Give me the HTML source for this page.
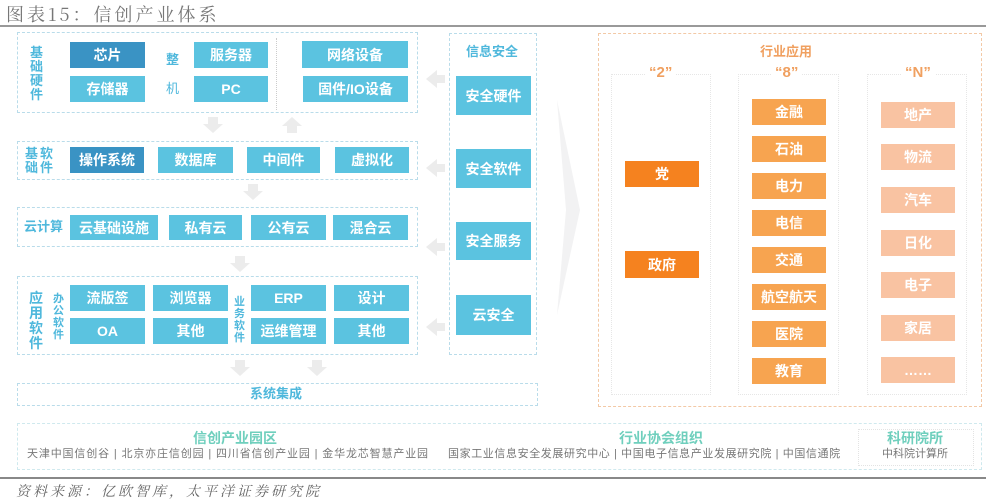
<!DOCTYPE html>
<html><head><meta charset="utf-8"><style>
body{margin:0;width:986px;height:500px;background:#fff;position:relative;overflow:hidden;font-family:"Liberation Sans","Noto Sans CJK SC",sans-serif}
.a{position:absolute;box-sizing:border-box}
.b{position:absolute;box-sizing:border-box;color:#fff;font-weight:bold;font-size:14px;display:flex;align-items:center;justify-content:center;background:#5bc3e0}
.d{background:#3a93c4}
.dash{position:absolute;box-sizing:border-box;border:1.5px dashed #b9dcea}
.lb{position:absolute;color:#4fb8dc;font-weight:bold;font-size:13px;line-height:14px}
.o1{background:#f5821f}.o2{background:#f7a450}.o3{background:#f9c3a2}
.t{position:absolute;color:#777;font-size:11px;white-space:nowrap}
</style></head><body>
<div class="a" style="left:6px;top:1px;font-family:'Noto Serif CJK SC',serif;font-size:18px;color:#777;letter-spacing:3px">图表15：信创产业体系</div>
<div class="a" style="left:0;top:25px;width:986px;height:2px;background:#999"></div>

<!-- hardware -->
<div class="dash" style="left:17px;top:32px;width:401px;height:81px"></div>
<div class="lb" style="left:30px;top:46px;width:14px">基础硬件</div>
<div class="b d" style="left:70px;top:42px;width:75px;height:26px">芯片</div>
<div class="b" style="left:70px;top:76px;width:75px;height:26px">存储器</div>
<div class="a" style="left:175px;top:38px;width:102px;height:72px;border-right:1px dotted #ccc"></div>
<div class="lb" style="left:166px;top:53px">整</div>
<div class="lb" style="left:166px;top:82px;font-weight:normal">机</div>
<div class="b" style="left:194px;top:42px;width:74px;height:26px">服务器</div>
<div class="b" style="left:194px;top:76px;width:74px;height:26px">PC</div>
<div class="b" style="left:302px;top:41px;width:106px;height:27px">网络设备</div>
<div class="b" style="left:303px;top:76px;width:105px;height:26px">固件/IO设备</div>
<svg class="a" style="left:0;top:0" width="986" height="500">
<g fill="#ececec">
<polygon points="208,117 218,117 218,124 223,124 213,133 203,124 208,124"/>
<polygon points="287,133 297,133 297,126 302,126 292,117 282,126 287,126"/>
<polygon points="248,184 258,184 258,191 263,191 253,200 243,191 248,191"/>
<polygon points="235,256 245,256 245,263 250,263 240,272 230,263 235,263"/>
<polygon points="235,360 245,360 245,367 250,367 240,376 230,367 235,367"/>
<polygon points="312,360 322,360 322,367 327,367 317,376 307,367 312,367"/>
<polygon points="445,75 437,75 437,70 426,79 437,88 437,83 445,83"/>
<polygon points="445,164 437,164 437,159 426,168 437,177 437,172 445,172"/>
<polygon points="445,243 437,243 437,238 426,247 437,256 437,251 445,251"/>
<polygon points="445,323 437,323 437,318 426,327 437,336 437,331 445,331"/>
<polygon points="557,100 580,210 557,315 566,210" fill="#f2f2f3"/>
</g></svg>

<!-- software -->
<div class="dash" style="left:17px;top:141px;width:401px;height:39px"></div>
<div class="lb" style="left:25px;top:147px;width:32px;letter-spacing:2px">基软础件</div>
<div class="b d" style="left:70px;top:147px;width:74px;height:26px">操作系统</div>
<div class="b" style="left:158px;top:147px;width:75px;height:26px">数据库</div>
<div class="b" style="left:247px;top:147px;width:73px;height:26px">中间件</div>
<div class="b" style="left:335px;top:147px;width:74px;height:26px">虚拟化</div>

<!-- cloud -->
<div class="dash" style="left:17px;top:207px;width:401px;height:40px"></div>
<div class="lb" style="left:24px;top:220px">云计算</div>
<div class="b" style="left:70px;top:215px;width:88px;height:25px">云基础设施</div>
<div class="b" style="left:169px;top:215px;width:73px;height:25px">私有云</div>
<div class="b" style="left:251px;top:215px;width:75px;height:25px">公有云</div>
<div class="b" style="left:333px;top:215px;width:75px;height:25px">混合云</div>

<!-- apps -->
<div class="dash" style="left:17px;top:276px;width:401px;height:79px"></div>
<div class="lb" style="left:29px;top:291px;width:14px;font-size:14px;line-height:15px">应用软件</div>
<div class="lb" style="left:53px;top:293px;width:12px;font-size:11px;line-height:12px">办公软件</div>
<div class="lb" style="left:234px;top:296px;width:12px;font-size:11px;line-height:12px">业务软件</div>
<div class="b" style="left:70px;top:285px;width:75px;height:26px">流版签</div>
<div class="b" style="left:153px;top:285px;width:75px;height:26px">浏览器</div>
<div class="b" style="left:251px;top:285px;width:75px;height:26px">ERP</div>
<div class="b" style="left:334px;top:285px;width:75px;height:26px">设计</div>
<div class="b" style="left:70px;top:318px;width:75px;height:26px">OA</div>
<div class="b" style="left:153px;top:318px;width:75px;height:26px">其他</div>
<div class="b" style="left:251px;top:318px;width:75px;height:26px">运维管理</div>
<div class="b" style="left:334px;top:318px;width:75px;height:26px">其他</div>

<div class="dash" style="left:17px;top:383px;width:521px;height:23px"></div>
<div class="lb" style="left:250px;top:387px">系统集成</div>

<!-- security -->
<div class="dash" style="left:449px;top:33px;width:88px;height:322px"></div>
<div class="lb" style="left:466px;top:45px">信息安全</div>
<div class="b" style="left:456px;top:76px;width:75px;height:39px">安全硬件</div>
<div class="b" style="left:456px;top:149px;width:75px;height:39px">安全软件</div>
<div class="b" style="left:456px;top:222px;width:75px;height:38px">安全服务</div>
<div class="b" style="left:456px;top:295px;width:75px;height:40px">云安全</div>

<!-- industry -->
<div class="a" style="left:598px;top:33px;width:384px;height:374px;border:1.5px dashed #f3c9a6"></div>
<div class="a" style="left:760px;top:41px;color:#f0a060;font-weight:bold;font-size:13px">行业应用</div>
<div class="a" style="left:611px;top:74px;width:100px;height:321px;border:1px dotted #e6e6e6"></div>
<div class="a" style="left:738px;top:74px;width:101px;height:321px;border:1px dotted #e6e6e6"></div>
<div class="a" style="left:867px;top:74px;width:100px;height:321px;border:1px dotted #e6e6e6"></div>
<div class="a" style="left:645px;top:64px;background:#fff;padding:0 4px;color:#f0a060;font-weight:bold;font-size:15px">“2”</div>
<div class="a" style="left:771px;top:64px;background:#fff;padding:0 4px;color:#f0a060;font-weight:bold;font-size:15px">“8”</div>
<div class="a" style="left:901px;top:64px;background:#fff;padding:0 4px;color:#f0a060;font-weight:bold;font-size:15px">“N”</div>
<div class="b o1" style="left:625px;top:161px;width:74px;height:26px">党</div>
<div class="b o1" style="left:625px;top:251px;width:74px;height:27px">政府</div>
<div class="b o2" style="left:752px;top:99px;width:74px;height:26px">金融</div>
<div class="b o2" style="left:752px;top:136px;width:74px;height:26px">石油</div>
<div class="b o2" style="left:752px;top:173px;width:74px;height:26px">电力</div>
<div class="b o2" style="left:752px;top:210px;width:74px;height:26px">电信</div>
<div class="b o2" style="left:752px;top:247px;width:74px;height:26px">交通</div>
<div class="b o2" style="left:752px;top:284px;width:74px;height:26px">航空航天</div>
<div class="b o2" style="left:752px;top:321px;width:74px;height:26px">医院</div>
<div class="b o2" style="left:752px;top:358px;width:74px;height:26px">教育</div>
<div class="b o3" style="left:881px;top:102px;width:74px;height:26px">地产</div>
<div class="b o3" style="left:881px;top:144px;width:74px;height:26px">物流</div>
<div class="b o3" style="left:881px;top:187px;width:74px;height:26px">汽车</div>
<div class="b o3" style="left:881px;top:230px;width:74px;height:26px">日化</div>
<div class="b o3" style="left:881px;top:272px;width:74px;height:26px">电子</div>
<div class="b o3" style="left:881px;top:315px;width:74px;height:26px">家居</div>
<div class="b o3" style="left:881px;top:357px;width:74px;height:26px">……</div>

<!-- bottom -->
<div class="a" style="left:17px;top:423px;width:965px;height:47px;border:1.5px dashed #cfe9ee"></div>
<div class="a" style="left:858px;top:429px;width:116px;height:37px;border:1px dotted #e3e3e3"></div>
<div class="a" style="left:193px;top:428px;color:#6fcfbd;font-weight:bold;font-size:14px">信创产业园区</div>
<div class="t" style="left:27px;top:445px;letter-spacing:0.85px">天津中国信创谷 | 北京亦庄信创园 | 四川省信创产业园 | 金华龙芯智慧产业园</div>
<div class="a" style="left:619px;top:428px;color:#6fcfbd;font-weight:bold;font-size:14px">行业协会组织</div>
<div class="t" style="left:448px;top:445px;letter-spacing:0.6px">国家工业信息安全发展研究中心 | 中国电子信息产业发展研究院 | 中国信通院</div>
<div class="a" style="left:887px;top:428px;color:#6fcfbd;font-weight:bold;font-size:14px">科研院所</div>
<div class="t" style="left:882px;top:445px">中科院计算所</div>

<div class="a" style="left:0;top:477px;width:986px;height:1.5px;background:#888"></div>
<div class="a" style="left:16px;top:481px;font-family:'Noto Serif CJK SC',serif;font-style:italic;font-size:14px;color:#666;letter-spacing:3px">资料来源：亿欧智库，太平洋证券研究院</div>
</body></html>
